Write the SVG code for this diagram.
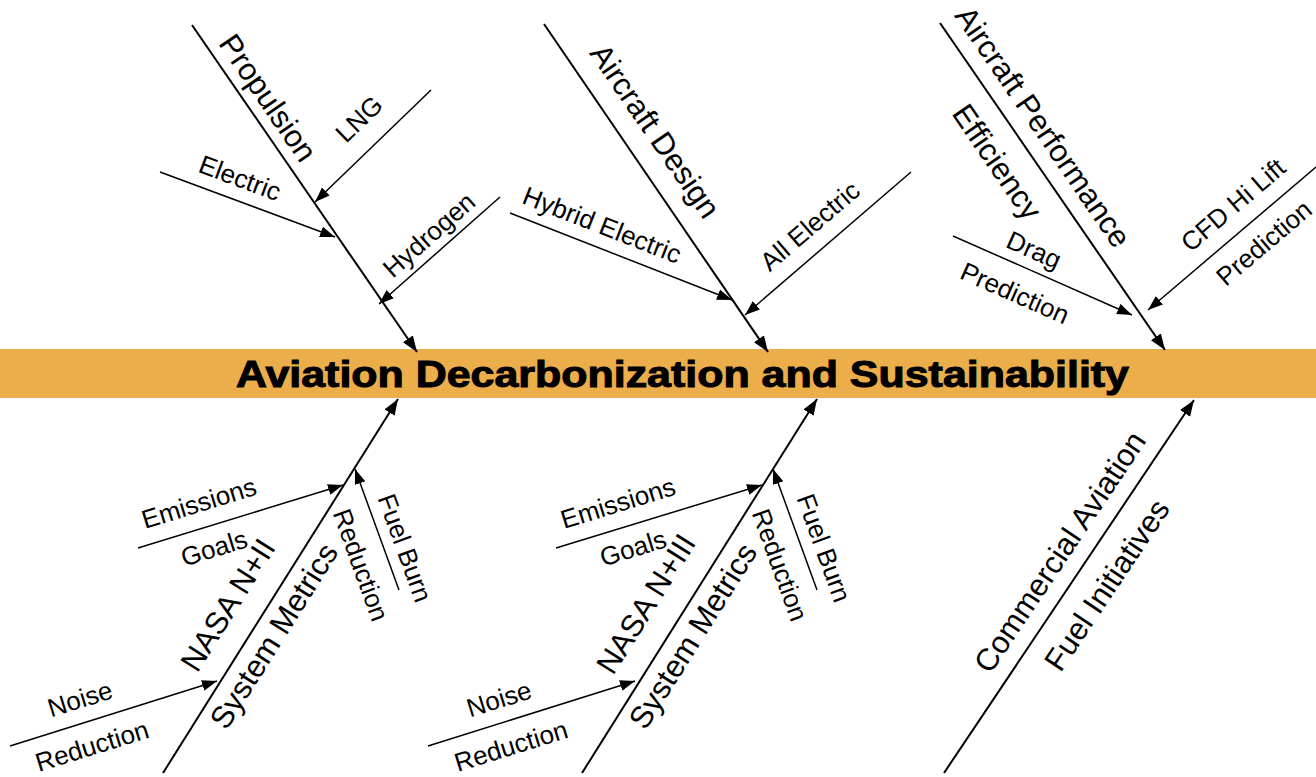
<svg xmlns="http://www.w3.org/2000/svg" width="1316" height="777" viewBox="0 0 1316 777">
<style>
.sp{stroke:#000;stroke-width:2;fill:none;marker-end:url(#ah)}
.br{stroke:#000;stroke-width:1.5;fill:none;marker-end:url(#ah2)}
text{font-family:"Liberation Sans",Arial,sans-serif;fill:#000;text-anchor:middle;dominant-baseline:central}
.big{font-size:31px}
.sm{font-size:26px}
.title{font-size:36px;font-weight:bold;stroke:#000;stroke-width:1;text-anchor:start;dominant-baseline:alphabetic}
</style>
<defs>
<marker id="ah" markerUnits="userSpaceOnUse" markerWidth="18" markerHeight="14" refX="16" refY="6" orient="auto"><path d="M0,0 L16,6 L0,12 z" fill="#000"/></marker>
<marker id="ah2" markerUnits="userSpaceOnUse" markerWidth="16" markerHeight="12" refX="15" refY="5.5" orient="auto"><path d="M0,0 L15,5.5 L0,11 z" fill="#000"/></marker>
</defs>
<rect id="band" x="0" y="349" width="1316" height="49" fill="#ECAD4B"/>
<g id="head"><text class="title" x="236" y="387" textLength="893" lengthAdjust="spacingAndGlyphs">Aviation Decarbonization and Sustainability</text></g>
<g id="connectors">
<line class="sp" x1="192" y1="25" x2="417" y2="352"/>
<line class="br" x1="160" y1="172" x2="335" y2="237"/>
<line class="br" x1="431" y1="90" x2="315" y2="202"/>
<line class="br" x1="500" y1="197" x2="379" y2="304"/>
<line class="sp" x1="544" y1="24" x2="768" y2="352"/>
<line class="br" x1="510" y1="213" x2="732" y2="300"/>
<line class="br" x1="911" y1="172" x2="745" y2="315"/>
<line class="sp" x1="940" y1="23" x2="1165" y2="350"/>
<line class="br" x1="953" y1="236" x2="1132" y2="315"/>
<line class="br" x1="1316" y1="167" x2="1148" y2="310"/>
<line class="sp" x1="163" y1="773" x2="398" y2="399"/>
<line class="br" x1="138" y1="548" x2="343" y2="485"/>
<line class="br" x1="10" y1="746" x2="217" y2="681"/>
<line class="br" x1="399" y1="590" x2="355" y2="469"/>
<line class="sp" x1="582" y1="773" x2="817" y2="399"/>
<line class="br" x1="556" y1="548" x2="762" y2="485"/>
<line class="br" x1="428" y1="746" x2="635" y2="681"/>
<line class="br" x1="817" y1="590" x2="773" y2="469"/>
<line class="sp" x1="944" y1="773" x2="1194" y2="400"/>
</g>
<g id="propulsion">
<text class="big" transform="translate(268,98) rotate(55.5)">Propulsion</text>
<text class="sm" transform="translate(359,119) rotate(-44)">LNG</text>
<text class="sm" transform="translate(240,178) rotate(20.4)">Electric</text>
<text class="sm" transform="translate(429,235) rotate(-41.5)">Hydrogen</text>
</g>
<g id="aircraft-design">
<text class="big" transform="translate(655,131) rotate(55.5)">Aircraft Design</text>
<text class="sm" transform="translate(602,225) rotate(21.4)">Hybrid Electric</text>
<text class="sm" transform="translate(810,226) rotate(-40.7)">All Electric</text>
</g>
<g id="aircraft-performance">
<text class="big" transform="translate(1043,127) rotate(55.5)">Aircraft Performance</text>
<text class="big" transform="translate(997,162) rotate(55.5)">Efficiency</text>
<text class="sm" transform="translate(1034,250) rotate(23.8)">Drag</text>
<text class="sm" transform="translate(1015,293) rotate(23.8)">Prediction</text>
<text class="sm" transform="translate(1233,205) rotate(-40.4)">CFD Hi Lift</text>
<text class="sm" transform="translate(1264,243) rotate(-40.4)">Prediction</text>
</g>
<g id="nasa-n2">
<text class="big" transform="translate(228,605) rotate(-57.9)">NASA N+II</text>
<text class="big" transform="translate(274,636) rotate(-57.9)">System Metrics</text>
<text class="sm" transform="translate(199,503) rotate(-17.2)">Emissions</text>
<text class="sm" transform="translate(214,548) rotate(-17.2)">Goals</text>
<text class="sm" transform="translate(80,699) rotate(-17.2)">Noise</text>
<text class="sm" transform="translate(92,746) rotate(-17.2)">Reduction</text>
<text class="sm" transform="translate(405,548) rotate(70)">Fuel Burn</text>
<text class="sm" transform="translate(361,565) rotate(70)">Reduction</text>
</g>
<g id="nasa-n3">
<text class="big" transform="translate(646,604) rotate(-57.9)">NASA N+III</text>
<text class="big" transform="translate(693,636) rotate(-57.9)">System Metrics</text>
<text class="sm" transform="translate(618,503) rotate(-17.2)">Emissions</text>
<text class="sm" transform="translate(633,548) rotate(-17.2)">Goals</text>
<text class="sm" transform="translate(499,699) rotate(-17.2)">Noise</text>
<text class="sm" transform="translate(511,746) rotate(-17.2)">Reduction</text>
<text class="sm" transform="translate(824,548) rotate(70)">Fuel Burn</text>
<text class="sm" transform="translate(780,565) rotate(70)">Reduction</text>
</g>
<g id="commercial-aviation">
<text class="big" transform="translate(1060,552) rotate(-56.2)">Commercial Aviation</text>
<text class="big" transform="translate(1107,585) rotate(-56.2)">Fuel Initiatives</text>
</g>
</svg>
